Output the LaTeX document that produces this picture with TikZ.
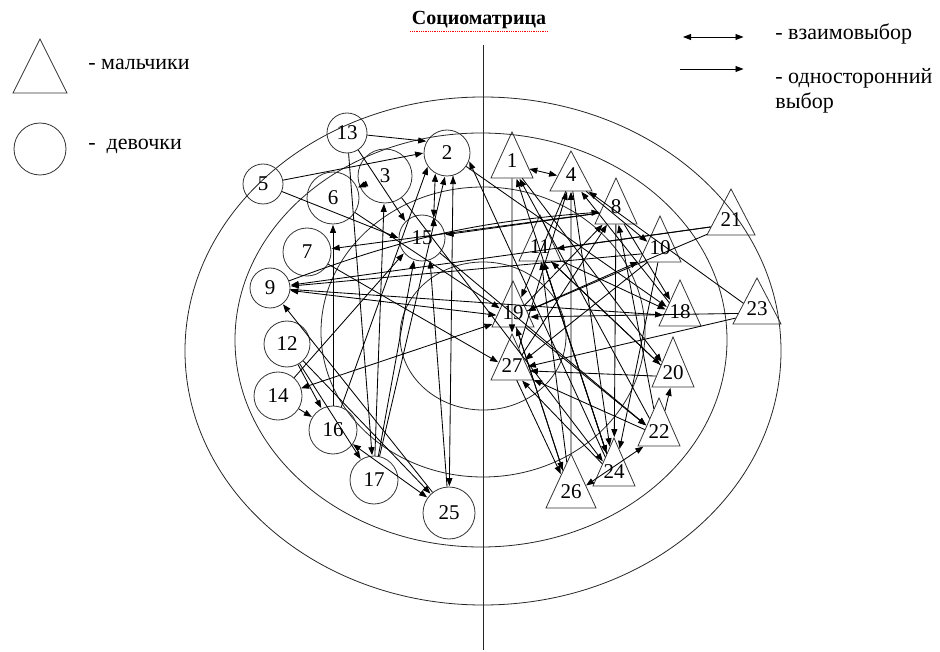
\documentclass[tikz,border=0pt]{standalone}
\usepackage{fontspec}
\setmainfont{Liberation Serif}
\usepackage{tikz}
\usetikzlibrary{arrows.meta}
\usetikzlibrary{calc}
\usetikzlibrary{shapes}

\begin{document}
\begin{tikzpicture}[x=1pt, y=-1pt, shorten >=0.5pt, line width=0.8pt,
        boy_style/.style={isosceles triangle, isosceles triangle apex angle=50, isosceles triangle stretches, shape border rotate=90, anchor=apex, draw=black!80, minimum width=42pt, minimum height=46pt, inner sep=0pt, text height=10pt, text depth=4.5pt, font=\fontsize{21}{21}\selectfont},
        girl_style/.style={circle, draw=black!80, minimum size=46pt, inner sep=0pt, font=\fontsize{21}{21}\selectfont},
        legend_style/.style={anchor=west, inner sep=0pt, font=\fontsize{22}{22}\selectfont},
        ring_style/.style={draw=black!85, line width=0.8pt},
        edge_style/.style={draw=black, line width=0.85pt, -{Triangle[length=8pt,width=6pt]}},
        mutual_edge_style/.style={draw=black, line width=0.85pt, {Triangle[length=8pt,width=6pt]}-{Triangle[length=8pt,width=6pt]}}]

        \useasboundingbox (0,0) rectangle (940,652);

        % title and legend
        \node [font=\fontsize{20}{20}\selectfont\bfseries] (title) at (479,20) {Социоматрица};
        \draw [red, densely dotted, line width=0.8pt] ($(title.south west)+(2,-1)$) -- ($(title.south east)+(-2,-1)$);
        \node [boy_style, minimum width=54pt, minimum height=54pt] (legend_boy) at (40,38) {};
        \node [legend_style] (legend_boy_text) at (88,64) {- мальчики};
        \node [girl_style, minimum size=52pt] (legend_girl) at (40,149) {};
        \node [legend_style] (legend_girl_text) at (88,146) {-\ \ девочки};
        \coordinate (mutual_a) at (683,37);
        \coordinate (mutual_b) at (744,37);
        \coordinate (single_a) at (680,69);
        \coordinate (single_b) at (744,69);
        \draw [mutual_edge_style] (mutual_a) -- (mutual_b);
        \draw [edge_style] (single_a) -- (single_b);
        \node [legend_style] (mutual_text) at (775,34) {- взаимовыбор};
        \node [legend_style] (single_text) at (775,78) {- односторонний};
        \node [legend_style] (single_text2) at (775,103) {выбор};

        % rings and axis
        \draw [ring_style] (483,351) ellipse [x radius=298pt, y radius=254pt];
        \draw [ring_style] (481,340) ellipse [x radius=246pt, y radius=207pt];
        \draw [ring_style] (483,332) ellipse [x radius=162pt, y radius=145pt];
        \draw [ring_style] (483,336) ellipse [x radius=83pt, y radius=74pt];
        \coordinate (axis_top) at (483,45);
        \coordinate (axis_bottom) at (483,650);
        \draw [ring_style] (axis_top) -- (axis_bottom);

        % girls
        \node [girl_style, minimum size=40pt](n13) at (347,133) {13};
        \node [girl_style](n2) at (447,153) {2};
        \node [girl_style, minimum size=54pt](n3) at (385,176) {3};
        \node [girl_style, minimum size=40pt](n5) at (263,184) {5};
        \node [girl_style, minimum size=52pt](n6) at (333,198) {6};
        \node [girl_style](n15) at (422,238) {15};
        \node [girl_style, minimum size=48pt](n7) at (307,252) {7};
        \node [girl_style, minimum size=40pt](n9) at (270,288) {9};
        \node [girl_style](n12) at (287,344) {12};
        \node [girl_style, minimum size=48pt](n14) at (278,396) {14};
        \node [girl_style, minimum size=48pt](n16) at (333,430) {16};
        \node [girl_style, minimum size=48pt](n17) at (374,480) {17};
        \node [girl_style, minimum size=52pt](n25) at (449,513) {25};

        % boys (placed by their apex)
        \node [boy_style](n1) at (512,131) {1};
        \node [boy_style, minimum height=40pt](n4) at (571,150) {4};
        \node [boy_style](n8) at (616,177) {8};
        \node [boy_style](n10) at (660,215) {10};
        \node [boy_style](n11) at (540,214) {11};
        \node [boy_style, minimum width=48pt](n21) at (731,188) {21};
        \node [boy_style](n18) at (680,279) {18};
        \node [boy_style, minimum width=48pt](n23) at (757,277) {23};
        \node [boy_style](n19) at (513,280) {19};
        \node [boy_style](n27) at (512,333) {27};
        \node [boy_style, minimum height=50pt](n20) at (673,336) {20};
        \node [boy_style, minimum height=48pt](n22) at (659,397) {22};
        \node [boy_style, minimum height=48pt](n24) at (614,437) {24};
        \node [boy_style, minimum width=50pt, minimum height=54pt](n26) at (571,453) {26};

        % mutual choices
        \draw [mutual_edge_style] (n1) edge (n4);
        \draw [mutual_edge_style] (n3) edge (n6);
        \draw [mutual_edge_style] (n15.60) edge (n2.-120);
        \draw [mutual_edge_style] (n9) edge (n19);
        \draw [mutual_edge_style] (n14) edge (n19);
        \draw [mutual_edge_style] (n16) edge (n25);
        \draw [mutual_edge_style] (n26) edge (n22);

        % one-way choices
        \draw [edge_style] (n13) edge (n2.150);
        \draw [edge_style] (n5) edge (n2.west);
        \draw [edge_style] (n13) edge (n15.north west);
        \draw [edge_style] (n13) edge (n17);
        \draw [edge_style] (n5) edge (n15.west);
        \draw [edge_style] (n16) edge (n2.-145);
        \draw [edge_style] (n17) edge (n3);
        \draw [edge_style] (n16) edge (n6);
        \draw [edge_style] (n7) edge (n27);
        \draw [edge_style] (n6) edge (n19);
        \draw [edge_style] (n12) edge (n16);
        \draw [edge_style] (n14) edge (n16);
        \draw [edge_style] (n12) edge (n17);
        \draw [edge_style] (n12) edge (n25);
        \draw [edge_style] (n2.-75) edge (n25);
        \draw [edge_style] (n25) edge (n9);
        \draw [edge_style] (n17) edge (n15.-110);
        \draw [edge_style] (n25) edge (n15.-70);
        \draw [edge_style] (n14) edge (n15.-140);
        \draw [edge_style] (n17) edge (n2.-95);
        \draw [edge_style] (n8) edge (n7);
        \draw [edge_style] (n21) edge (n9);
        \draw [edge_style] (n10) edge (n9);
        \draw [edge_style] (n2) edge (n18);
        \draw [edge_style] (n24) edge (n2.-20);
        \draw [edge_style] (n3) edge (n24);
        \draw [edge_style] (n15) edge (n22);
        \draw [edge_style] (n9) edge [bend left=8] (n8);
        \draw [edge_style] (n9) edge (n18);
        \draw [edge_style] (n1) edge (n27);
        \draw [edge_style] (n24) edge (n1);
        \draw [edge_style] (n22) edge (n1);
        \draw [edge_style] (n1) edge (n20);
        \draw [edge_style] (n26) edge (n4);
        \draw [edge_style] (n27) edge (n4);
        \draw [edge_style] (n4) edge (n24);
        \draw [edge_style] (n23) edge (n4);
        \draw [edge_style] (n18) edge (n4);
        \draw [edge_style] (n19) edge (n8);
        \draw [edge_style] (n27) edge (n8);
        \draw [edge_style] (n22) edge (n8);
        \draw [edge_style] (n4) edge (n10);
        \draw [edge_style] (n21) edge (n11);
        \draw [edge_style] (n26) edge (n11);
        \draw [edge_style] (n24) edge (n11);
        \draw [edge_style] (n20) edge (n11);
        \draw [edge_style] (n19) edge (n10);
        \draw [edge_style] (n8) edge (n15);
        \draw [edge_style] (n11) edge (n18);
        \draw [edge_style] (n8) edge (n18);
        \draw [edge_style] (n23) edge (n19);
        \draw [edge_style] (n23) edge (n27);
        \draw [edge_style] (n21) edge (n19);
        \draw [edge_style] (n26) edge (n19);
        \draw [edge_style] (n22) edge (n20);
        \draw [edge_style] (n11) edge (n24);
        \draw [edge_style] (n8) edge (n24);
        \draw [edge_style] (n10) edge (n27);
        \draw [edge_style] (n20) edge (n27);
        \draw [edge_style] (n22) edge (n27);
        \draw [edge_style] (n24) edge (n27);
        \draw [edge_style] (n19) edge (n22);
        \draw [edge_style] (n11) edge (n20);
        \draw [edge_style] (n27) edge (n26);
        \draw [edge_style] (n19) edge (n26);
        \draw [edge_style] (n4) edge (n19);
        \draw [edge_style] (n10) edge (n24);
\end{tikzpicture}
\end{document}
